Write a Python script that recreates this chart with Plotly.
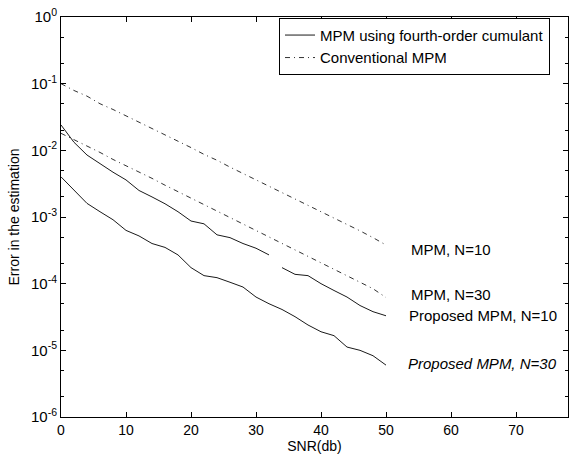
# %%
import numpy as np
import plotly.graph_objects as go

# SNR grid (db)
snr = [0, 2, 4, 6, 8, 10, 12, 14, 16, 18, 20, 22, 24, 26, 28, 30, 32, 34, 36, 38, 40, 42, 44, 46, 48, 50]
snr_gap = [0, 2, 4, 6, 8, 10, 12, 14, 16, 18, 20, 22, 24, 26, 28, 30, 32, 33, 34, 36, 38, 40, 42, 44, 46, 48, 50]

# conventional MPM (dashed)
conv_n10 = [0.1, 0.079, 0.065, 0.050, 0.041, 0.033, 0.026, 0.021, 0.017, 0.0135, 0.011, 0.0087, 0.0071,
            0.0056, 0.0045, 0.0036, 0.0029, 0.0023, 0.00186, 0.00148, 0.0012, 0.00095, 0.00078, 0.00062,
            0.00049, 0.00038]
conv_n30 = [0.018, 0.0145, 0.0115, 0.0093, 0.0073, 0.0059, 0.0047, 0.0038, 0.003, 0.0024, 0.0019, 0.00155,
            0.00123, 0.00098, 0.00078, 0.00063, 0.0005, 0.0004, 0.00032, 0.00026, 0.00021, 0.000165,
            0.000132, 0.000105, 0.000084, 0.000062]

# MPM using fourth-order cumulant (solid), N=10 has a break near 33 db in the original
prop_n10 = [0.024, 0.0132, 0.0085, 0.0063, 0.0047, 0.0036, 0.0025, 0.002, 0.00158, 0.0012, 0.00087, 0.00079,
            0.00054, 0.00049, 0.0004, 0.00034, 0.00027, None, 0.000174, 0.000138, 0.000132, 0.0001,
            0.000079, 0.000063, 0.000047, 0.000038, 0.000033]
prop_n30 = [0.004, 0.0025, 0.0016, 0.0012, 0.00091, 0.00063, 0.00052, 0.0004, 0.00035, 0.00027, 0.000174,
            0.000132, 0.000123, 0.000105, 0.000089, 0.000063, 0.00005, 0.000041, 0.000032, 0.000024,
            0.000019, 0.0000166, 0.0000112, 0.00001, 0.0000083, 0.000006]

labels = ['MPM, N=10', 'MPM, N=30', 'Proposed MPM, N=10', '<i>Proposed MPM, N=30</i>']
label_x = [53.5, 53.5, 53.3, 53.0]
label_y = [3.3e-4, 6.9e-5, 3.3e-5, 6.3e-6]

ytick_vals = [1, 0.1, 0.01, 1e-3, 1e-4, 1e-5, 1e-6]
ytick_text = ['10<sup>0</sup>', '10<sup>-1</sup>', '10<sup>-2</sup>', '10<sup>-3</sup>',
              '10<sup>-4</sup>', '10<sup>-5</sup>', '10<sup>-6</sup>']

font = 'Liberation Sans, Arial, sans-serif'
solid = dict(color='#1a1a1a', width=1)
dashed = dict(color='#333333', width=1, dash='5px,4px,1px,4px')

fig = go.Figure()
fig.add_trace(go.Scatter(x=snr_gap, y=prop_n10, mode='lines', line=solid,
                         name='MPM using fourth-order cumulant', connectgaps=False))
fig.add_trace(go.Scatter(x=snr, y=prop_n30, mode='lines', line=solid, showlegend=False))
fig.add_trace(go.Scatter(x=snr, y=conv_n10, mode='lines', line=dashed, name='Conventional MPM'))
fig.add_trace(go.Scatter(x=snr, y=conv_n30, mode='lines', line=dashed, showlegend=False))

for t, xx, yy in zip(labels, label_x, label_y):
    fig.add_annotation(x=xx, y=np.log10(yy), text=t, showarrow=False, xanchor='left', yanchor='middle',
                       font=dict(family=font, size=15, color='black'))

fig.update_layout(
    width=569, height=462,
    margin=dict(l=61, r=1, t=17, b=45),
    plot_bgcolor='white', paper_bgcolor='white',
    font=dict(family=font, size=13, color='black'),
    legend=dict(x=0.43, y=0.998, xanchor='left', yanchor='top', bgcolor='white',
                bordercolor='black', borderwidth=1, font=dict(size=15), itemwidth=30,
                tracegroupgap=0),
)

fig.update_xaxes(
    range=[0, 78], dtick=10, tick0=0, showgrid=False, zeroline=False, automargin=False,
    showline=True, linecolor='black', linewidth=1, mirror='ticks',
    ticks='inside', ticklen=5, tickcolor='black', tickfont=dict(size=14),
    title=dict(text='SNR(db)', font=dict(size=14), standoff=4),
)
fig.update_yaxes(
    type='log', range=[-6, 0], tickvals=ytick_vals, ticktext=ytick_text, automargin=False,
    showgrid=False, zeroline=False, showline=True, linecolor='black', linewidth=1, mirror='ticks',
    ticks='inside', ticklen=5, tickcolor='black', tickfont=dict(size=15),
    minor=dict(ticks='inside', ticklen=3, tickcolor='black', showgrid=False),
    title=dict(text='Error in the estimation', font=dict(size=14), standoff=8),
)

# drop the default page margin so the figure sits at the window corner
fig.write_html('out.html', config={'displayModeBar': False},
               post_script="document.body.style.margin='0';document.body.style.overflow='hidden';")
# %%
